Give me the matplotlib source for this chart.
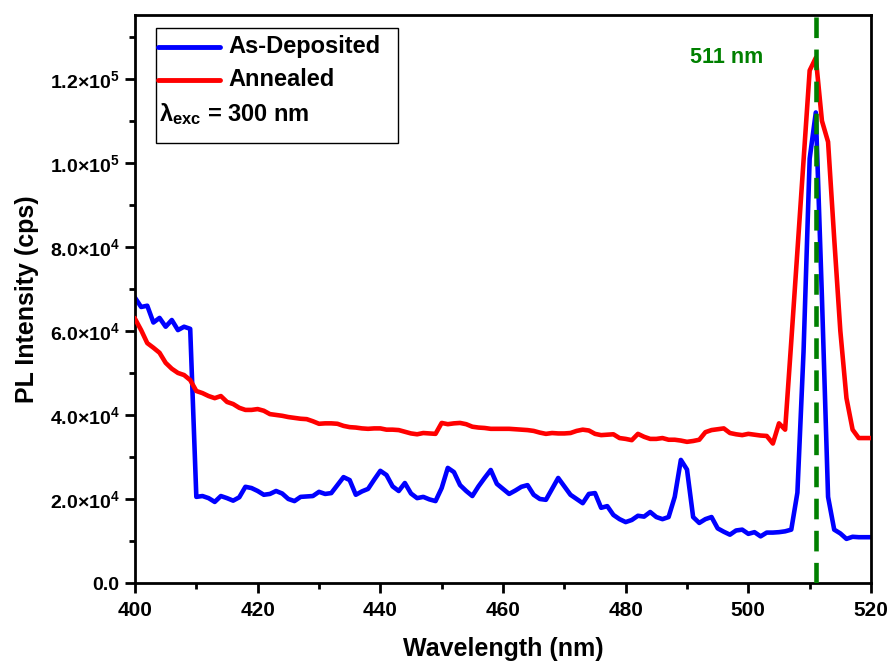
import numpy as np
import matplotlib.pyplot as plt
from matplotlib.patches import Rectangle
from matplotlib.lines import Line2D
from matplotlib.ticker import MultipleLocator, FuncFormatter

plt.rcParams['font.family'] = ['Liberation Sans', 'DejaVu Sans']
plt.rcParams['font.weight'] = 'bold'
plt.rcParams['mathtext.fontset'] = 'custom'
plt.rcParams['mathtext.rm'] = 'Liberation Sans:bold'
plt.rcParams['mathtext.bf'] = 'Liberation Sans:bold'
plt.rcParams['mathtext.it'] = 'Liberation Sans:bold'

# PL spectra, 1 nm steps from 400 to 520 nm (values in units of 1e3 cps)
wavelength = np.arange(400, 521)

as_deposited = [
    67.9, 65.7, 66.0, 62.0, 63.1, 61.0, 62.6, 60.2, 61.0, 60.5,   # 400-409
    20.5, 20.7, 20.2, 19.3, 20.7, 20.2, 19.6, 20.4, 22.9, 22.6,   # 410-419
    21.9, 21.0, 21.2, 21.9, 21.3, 20.0, 19.5, 20.5, 20.6, 20.7,   # 420-429
    21.7, 21.2, 21.4, 23.3, 25.2, 24.5, 21.0, 21.8, 22.4, 24.6,   # 430-439
    26.7, 25.7, 23.0, 21.9, 23.8, 21.3, 20.2, 20.5, 19.9, 19.5,   # 440-449
    22.6, 27.4, 26.4, 23.3, 21.9, 20.7, 23.0, 25.0, 26.9, 23.6,   # 450-459
    22.4, 21.2, 22.0, 22.9, 23.3, 21.0, 20.0, 19.8, 22.4, 25.0,   # 460-469
    23.0, 21.0, 20.0, 19.0, 21.2, 21.4, 17.9, 18.3, 16.2, 15.2,   # 470-479
    14.5, 15.0, 16.0, 15.8, 16.9, 15.7, 15.2, 15.7, 20.5, 29.3,   # 480-489
    27.0, 15.7, 14.3, 15.2, 15.7, 13.0, 12.2, 11.5, 12.5, 12.7,   # 490-499
    11.7, 12.1, 11.1, 12.0, 12.0, 12.1, 12.3, 12.7, 21.5, 55.0,   # 500-509
    101.0, 112.0, 68.0, 20.5, 12.7, 11.8, 10.5, 11.0, 10.9, 10.9, # 510-519
    10.9,                                                          # 520
]

annealed = [
    62.9, 60.2, 57.1, 56.0, 54.8, 52.4, 51.0, 50.0, 49.5, 48.3,   # 400-409
    45.7, 45.2, 44.5, 44.0, 44.5, 43.1, 42.6, 41.7, 41.2, 41.2,   # 410-419
    41.4, 41.0, 40.2, 40.0, 39.8, 39.5, 39.3, 39.1, 39.0, 38.5,   # 420-429
    37.9, 38.0, 38.0, 37.9, 37.4, 37.1, 37.0, 36.8, 36.7, 36.8,   # 430-439
    36.8, 36.5, 36.5, 36.4, 36.0, 35.6, 35.4, 35.7, 35.6, 35.5,   # 440-449
    38.1, 37.8, 38.0, 38.1, 37.8, 37.2, 37.0, 36.9, 36.7, 36.7,   # 450-459
    36.7, 36.7, 36.6, 36.5, 36.4, 36.2, 35.8, 35.5, 35.7, 35.6,   # 460-469
    35.6, 35.7, 36.2, 36.5, 36.3, 35.5, 35.2, 35.3, 35.4, 34.5,   # 470-479
    34.3, 34.0, 35.5, 34.8, 34.3, 34.3, 34.5, 34.1, 34.1, 33.9,   # 480-489
    33.6, 33.8, 34.1, 35.9, 36.4, 36.6, 36.8, 35.7, 35.4, 35.2,   # 490-499
    35.5, 35.3, 35.1, 35.0, 33.2, 38.0, 36.5, 57.5, 79.0, 100.5,  # 500-509
    122.0, 125.0, 110.0, 105.0, 82.0, 60.0, 44.0, 36.5, 34.5, 34.5, # 510-519
    34.5,                                                          # 520
]

peak_nm = 511
labels = ['As-Deposited', 'Annealed']
colors = ['#0000ff', '#ff0000']


def sci_fmt(v, pos):
    if v == 0:
        return '0.0'
    exp = int(np.floor(np.log10(abs(v))))
    mant = v / 10 ** exp
    return '%.1f×10$^{\\mathbf{%d}}$' % (mant, exp)


fig = plt.figure(figsize=(8.9, 6.66), dpi=100)
ax = fig.add_axes([135 / 890, 1 - 583 / 666, 736 / 890, 568 / 666])

ax.plot(wavelength, np.array(as_deposited) * 1e3, color=colors[0], lw=3.3, zorder=2)
ax.plot(wavelength, np.array(annealed) * 1e3, color=colors[1], lw=3.3, zorder=3)
ax.axvline(peak_nm, color='#008000', lw=3.3, ls=(0, (4.5, 2.5)), zorder=4)
ax.text(496.5, 1.25e5, '%d nm' % peak_nm, color='#008000', fontsize=15.5,
        fontweight='bold', ha='center', va='center')

ax.set_xlim(400, 520)
ax.set_ylim(0, 1.352e5)
ax.xaxis.set_major_locator(MultipleLocator(20))
ax.xaxis.set_minor_locator(MultipleLocator(10))
ax.yaxis.set_major_locator(MultipleLocator(2e4))
ax.yaxis.set_minor_locator(MultipleLocator(1e4))
ax.yaxis.set_major_formatter(FuncFormatter(sci_fmt))

for s in ax.spines.values():
    s.set_linewidth(2)
ax.tick_params(which='major', direction='out', length=7, width=2)
ax.tick_params(which='minor', direction='out', length=4, width=2)
ax.tick_params(axis='x', labelsize=15, pad=6)
ax.tick_params(axis='y', labelsize=14, pad=4)

ax.set_xlabel('Wavelength (nm)', fontsize=18, fontweight='bold', labelpad=12)
ax.set_ylabel('PL Intensity (cps)', fontsize=18, fontweight='bold', labelpad=8)

# legend box drawn by hand so the excitation note sits flush left
ax.add_patch(Rectangle((0.0285, 0.775), 0.3285, 0.202, transform=ax.transAxes,
                       fill=False, lw=1, ec='black', zorder=5))
for yy, lab, c in zip([0.944, 0.886], labels, colors):
    ax.add_line(Line2D([0.031, 0.1155], [yy, yy], transform=ax.transAxes,
                       color=c, lw=3.5, solid_capstyle='round', zorder=5))
    ax.text(0.1264, yy, lab, transform=ax.transAxes, fontsize=17,
            fontweight='bold', va='center', ha='left', zorder=5)
ax.text(0.033, 0.826, 'λ$_{\\mathbf{exc}}$ = 300 nm', transform=ax.transAxes,
        fontsize=17, fontweight='bold', va='center', ha='left', zorder=5)

fig.savefig('out.png', dpi=100)
